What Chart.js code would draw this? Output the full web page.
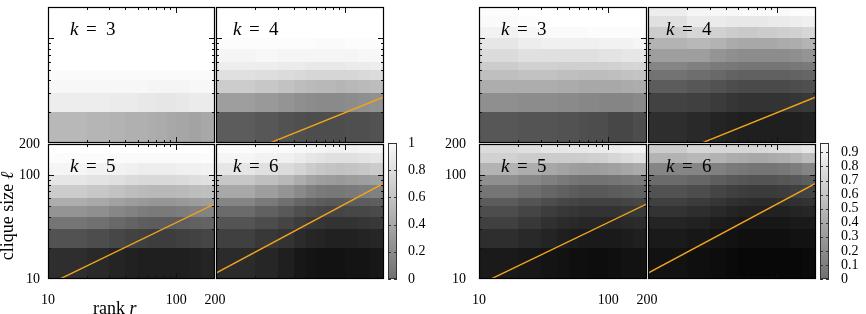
<!DOCTYPE html>
<html>
<head>
<meta charset="utf-8">
<script src="https://cdn.jsdelivr.net/npm/chart.js@4"></script>
<style>
  html, body { margin: 0; padding: 0; background: #fff; }
  #wrap { position: relative; width: 866px; height: 314px; overflow: hidden; background: #fff; }
  #wrap canvas { position: absolute; }
</style>
</head>
<body>
<div id="wrap"></div>
<script>
// cell edges on the two log axes
const rankEdges = [10, 20, 30, 40, 50, 60, 70, 85, 100, 125, 155, 200];
const sizeEdges = [10, 20, 30, 40, 50, 60, 80, 100, 130, 165, 200];
const axisLabels = [10, 100, 200];
const minorTicks = [20, 30, 40, 50, 60, 70, 80, 90];
const majorTicks = [100];

// orange lines: clique size at rank 10 and at rank 200
const lineRanks = [10, 200];
const lineK4 = [6.2, 27.6];
const lineK5 = [8.8, 53];
const lineK6 = [11.4, 84];

// colour bars
const cbTicksLeft = [0, 0.2, 0.4, 0.6, 0.8, 1];
const cbTicksRight = [0, 0.1, 0.2, 0.3, 0.4, 0.5, 0.6, 0.7, 0.8, 0.9];
const cbMaxLeft = 1;
const cbMaxRight = 0.967;

// grey level of each cell, rows from clique size 10 upwards, columns from rank 10 to 200
const leftK3 = [
  [.72, .71, .70, .69, .69, .68, .67, .66, .65, .64, .66],
  [.93, .93, .92, .92, .91, .91, .90, .90, .91, .92, .92],
  [.97, .97, .97, .97, .97, .96, .96, .96, .96, .97, .97],
  [.98, .98, .98, .98, .98, .98, .98, .98, .98, .98, .98],
  [1, 1, 1, 1, 1, 1, 1, 1, 1, 1, 1],
  [1, 1, 1, 1, 1, 1, 1, 1, 1, 1, 1],
  [1, 1, 1, 1, 1, 1, 1, 1, 1, 1, 1],
  [1, 1, 1, 1, 1, 1, 1, 1, 1, 1, 1],
  [1, 1, 1, 1, 1, 1, 1, 1, 1, 1, 1],
  [1, 1, 1, 1, 1, 1, 1, 1, 1, 1, 1]
];
const leftK4 = [
  [.36, .34, .32, .31, .30, .30, .30, .30, .31, .31, .32],
  [.62, .60, .58, .56, .55, .54, .54, .54, .55, .56, .57],
  [.80, .78, .76, .74, .73, .72, .72, .71, .72, .73, .74],
  [.88, .87, .86, .85, .84, .84, .84, .84, .84, .85, .86],
  [.93, .93, .92, .92, .91, .91, .91, .91, .92, .92, .93],
  [.96, .97, .96, .96, .96, .96, .96, .96, .96, .97, .97],
  [.99, .99, .99, .99, .99, .98, .98, .98, .99, .99, .99],
  [1, 1, 1, 1, 1, 1, 1, 1, 1, 1, 1],
  [1, 1, 1, 1, 1, 1, 1, 1, 1, 1, 1],
  [1, 1, 1, 1, 1, 1, 1, 1, 1, 1, 1]
];
const leftK5 = [
  [.18, .16, .14, .13, .12, .12, .12, .12, .12, .13, .14],
  [.32, .30, .28, .26, .25, .24, .24, .24, .25, .26, .27],
  [.46, .44, .41, .39, .37, .36, .36, .36, .37, .38, .39],
  [.58, .56, .53, .51, .49, .48, .48, .48, .49, .50, .51],
  [.68, .66, .63, .61, .60, .59, .59, .59, .60, .61, .62],
  [.80, .78, .76, .74, .73, .72, .72, .72, .73, .74, .75],
  [.90, .89, .88, .86, .85, .85, .85, .85, .86, .87, .88],
  [.96, .95, .95, .94, .93, .93, .93, .93, .94, .94, .95],
  [.99, .99, .98, .98, .98, .98, .98, .98, .98, .98, .99],
  [1, 1, 1, 1, 1, 1, 1, 1, 1, 1, 1]
];
const leftK6 = [
  [.17, .15, .12, .09, .08, .07, .07, .07, .08, .08, .09],
  [.25, .22, .20, .17, .15, .14, .13, .13, .13, .14, .15],
  [.33, .30, .27, .24, .22, .21, .20, .20, .20, .21, .22],
  [.42, .38, .35, .31, .29, .28, .27, .27, .28, .28, .29],
  [.52, .48, .44, .40, .38, .36, .35, .35, .36, .36, .37],
  [.66, .62, .58, .54, .50, .48, .47, .47, .48, .49, .50],
  [.78, .75, .72, .68, .64, .62, .61, .60, .61, .62, .63],
  [.90, .88, .86, .83, .80, .78, .77, .76, .77, .78, .80],
  [.96, .95, .94, .92, .90, .89, .88, .88, .88, .89, .90],
  [.99, .98, .98, .97, .96, .96, .95, .95, .95, .96, .96]
];
const rightK3 = [
  [.34, .33, .33, .32, .32, .31, .30, .30, .28, .28, .30],
  [.56, .55, .55, .54, .54, .53, .53, .52, .52, .52, .54],
  [.68, .68, .68, .67, .67, .66, .66, .66, .66, .67, .68],
  [.75, .76, .76, .75, .75, .74, .74, .74, .75, .76, .77],
  [.80, .82, .82, .81, .81, .81, .81, .81, .82, .83, .84],
  [.86, .88, .88, .88, .88, .88, .88, .89, .89, .90, .90],
  [.90, .93, .94, .94, .94, .94, .94, .95, .95, .95, .96],
  [.95, .97, .98, .98, .98, .98, .99, .99, .99, .99, .99],
  [.98, .99, 1, 1, 1, 1, 1, 1, 1, 1, 1],
  [.99, 1, 1, 1, 1, 1, 1, 1, 1, 1, 1]
];
const rightK4 = [
  [.18, .16, .14, .13, .12, .12, .12, .12, .12, .12, .13],
  [.26, .25, .23, .21, .20, .20, .20, .20, .20, .21, .22],
  [.36, .34, .32, .30, .29, .29, .29, .29, .29, .30, .31],
  [.45, .43, .41, .39, .38, .38, .38, .38, .38, .39, .40],
  [.52, .50, .48, .47, .46, .46, .46, .46, .46, .47, .48],
  [.62, .62, .58, .56, .55, .55, .55, .55, .55, .56, .58],
  [.70, .72, .70, .67, .66, .66, .66, .66, .67, .68, .70],
  [.80, .84, .82, .80, .79, .79, .80, .80, .81, .82, .84],
  [.88, .92, .92, .91, .91, .91, .91, .92, .92, .93, .94],
  [.93, .96, .97, .97, .98, .98, .98, .98, .98, .99, .99]
];
const rightK5 = [
  [.10, .09, .08, .07, .06, .06, .05, .05, .06, .07, .07],
  [.18, .16, .14, .12, .11, .10, .10, .10, .10, .11, .12],
  [.25, .22, .19, .17, .16, .15, .15, .15, .15, .16, .17],
  [.30, .27, .24, .22, .21, .20, .20, .20, .20, .21, .22],
  [.36, .33, .30, .28, .27, .26, .26, .26, .26, .27, .28],
  [.46, .43, .40, .38, .36, .35, .35, .35, .36, .37, .38],
  [.56, .53, .50, .48, .46, .45, .45, .45, .46, .47, .48],
  [.70, .68, .66, .64, .62, .61, .61, .62, .63, .65, .67],
  [.82, .80, .80, .80, .80, .80, .81, .82, .84, .86, .88],
  [.86, .88, .90, .90, .91, .91, .92, .92, .93, .94, .95]
];
const rightK6 = [
  [.07, .06, .05, .04, .03, .03, .03, .03, .03, .03, .04],
  [.10, .09, .08, .07, .06, .06, .06, .06, .06, .07, .07],
  [.14, .13, .11, .10, .09, .09, .09, .09, .09, .10, .10],
  [.20, .18, .16, .14, .13, .13, .13, .13, .13, .14, .15],
  [.25, .23, .21, .19, .18, .17, .17, .17, .18, .19, .20],
  [.32, .30, .27, .25, .24, .23, .23, .23, .24, .25, .26],
  [.42, .40, .37, .35, .34, .33, .33, .33, .34, .35, .37],
  [.52, .52, .50, .48, .47, .46, .46, .46, .47, .49, .52],
  [.70, .72, .70, .68, .67, .66, .66, .67, .68, .70, .74],
  [.80, .84, .84, .84, .84, .84, .85, .86, .87, .88, .90]
];

const SERIF = "'Liberation Serif', 'DejaVu Serif', serif";
const ORANGE = '#f0a41e';
const PAD_T = 26;   // room above labelled panels for Chart.js label padding
const PAD_R = 30;

const panels = [
  { k: 3, grid: leftK3, line: null, x: 48, y: 7, w: 167, h: 136, dx: 22 },
  { k: 4, grid: leftK4, line: lineK4, x: 216, y: 7, w: 168, h: 136, dx: 17 },
  { k: 5, grid: leftK5, line: lineK5, x: 48, y: 144, w: 167, h: 135, dx: 22, axes: { left: 0, pad: 8, titles: true } },
  { k: 6, grid: leftK6, line: lineK6, x: 216, y: 144, w: 168, h: 135, dx: 17 },
  { k: 3, grid: rightK3, line: null, x: 479, y: 7, w: 168, h: 136, dx: 22 },
  { k: 4, grid: rightK4, line: lineK4, x: 648, y: 7, w: 168, h: 136, dx: 18 },
  { k: 5, grid: rightK5, line: lineK5, x: 479, y: 144, w: 168, h: 135, dx: 22, axes: { left: 436, pad: 13, titles: false } },
  { k: 6, grid: rightK6, line: lineK6, x: 648, y: 144, w: 168, h: 135, dx: 18 }
];

const wrap = document.getElementById('wrap');

function addCanvas(left, top, w, h) {
  const c = document.createElement('canvas');
  c.width = w; c.height = h;
  c.style.left = left + 'px'; c.style.top = top + 'px';
  c.style.width = w + 'px'; c.style.height = h + 'px';
  wrap.appendChild(c);
  return c;
}

function grey(v) {
  const g = Math.round(255 * v);
  return 'rgb(' + g + ',' + g + ',' + g + ')';
}

function seg(ctx, x0, y0, x1, y1) {
  ctx.beginPath(); ctx.moveTo(x0, y0); ctx.lineTo(x1, y1); ctx.stroke();
}

function panelPlugin(p, ct) {
  return {
    id: 'panel',
    beforeDatasetsDraw(chart) {
      const { ctx, scales: { x, y } } = chart;
      ctx.save();
      p.grid.forEach((row, i) => {
        const yT = Math.round(y.getPixelForValue(sizeEdges[i + 1]));
        const yB = Math.round(y.getPixelForValue(sizeEdges[i]));
        row.forEach((v, j) => {
          const x0 = Math.round(x.getPixelForValue(rankEdges[j]));
          const x1 = Math.round(x.getPixelForValue(rankEdges[j + 1]));
          ctx.fillStyle = grey(v);
          ctx.fillRect(x0, yT, x1 - x0, yB - yT);
        });
      });
      ctx.restore();
    },
    afterDatasetsDraw(chart) {
      const { ctx, chartArea: a, scales: { x, y } } = chart;
      ctx.save();
      ctx.strokeStyle = '#111';
      ctx.lineWidth = 1;
      const ticks = (vals, len) => vals.forEach(v => {
        const px = Math.round(x.getPixelForValue(v)) + 0.5;
        seg(ctx, px, a.top, px, a.top + len);
        seg(ctx, px, a.bottom, px, a.bottom - len);
        const py = Math.round(y.getPixelForValue(v)) + 0.5;
        seg(ctx, a.left, py, a.left + len, py);
        seg(ctx, a.right, py, a.right - len, py);
      });
      ticks(minorTicks, 3);
      ticks(majorTicks, 6);
      ctx.strokeStyle = '#000';
      ctx.lineWidth = 1.2;
      ctx.strokeRect(a.left + 0.5, a.top + 0.5, a.width - 1, a.height - 1);

      // panel label "k = n"
      const tx = a.left + p.dx, ty = a.top + 28;
      ctx.fillStyle = '#000';
      ctx.textBaseline = 'alphabetic';
      ctx.font = 'italic 19px ' + SERIF;
      ctx.fillText('k', tx, ty);
      ctx.font = '19px ' + SERIF;
      ctx.fillText('=', tx + 16, ty);
      ctx.fillText(String(p.k), tx + 36, ty);

      if (p.axes && p.axes.titles) {
        // y title, rotated
        ctx.font = '18px ' + SERIF;
        const t1 = 'clique size ';
        const w1 = ctx.measureText(t1).width;
        ctx.font = 'italic 18px ' + SERIF;
        const w2 = ctx.measureText('ℓ').width;
        ctx.save();
        ctx.translate(13 - p.axes.left, 216 - ct);
        ctx.rotate(-Math.PI / 2);
        ctx.font = '18px ' + SERIF;
        ctx.fillText(t1, -(w1 + w2) / 2, 0);
        ctx.font = 'italic 18px ' + SERIF;
        ctx.fillText('ℓ', -(w1 + w2) / 2 + w1, 0);
        ctx.restore();
        // x title, cut by the bottom edge as in the original
        const bx = 93 - p.axes.left, by = 314 - ct;
        ctx.font = '18px ' + SERIF;
        const wr = ctx.measureText('rank ').width;
        ctx.fillText('rank ', bx, by);
        ctx.font = 'italic 18px ' + SERIF;
        ctx.fillText('r', bx + wr, by);
      }
      ctx.restore();
    }
  };
}

function makePanel(p) {
  const labelled = !!p.axes;
  let cl, ct, cw, ch, padding;
  if (labelled) {
    cl = p.axes.left; ct = p.y - PAD_T;
    cw = p.x + p.w + PAD_R - cl; ch = 330 - ct;
    padding = { left: 0, top: PAD_T, right: PAD_R, bottom: 0 };
  } else {
    cl = p.x - 3; ct = p.y - 3; cw = p.w + 6; ch = p.h + 6;
    padding = 3;
  }
  const canvas = addCanvas(cl, ct, cw, ch);
  const datasets = [];
  if (p.line) {
    datasets.push({
      data: lineRanks.map((r, i) => ({ x: r, y: p.line[i] })),
      borderColor: ORANGE,
      borderWidth: 1.4,
      pointRadius: 0,
      fill: false
    });
  }
  const tickFont = { family: SERIF, size: 14 };
  new Chart(canvas, {
    type: 'line',
    data: { datasets },
    options: {
      responsive: false,
      devicePixelRatio: 1,
      animation: false,
      layout: { padding },
      plugins: { legend: { display: false }, tooltip: { enabled: false } },
      scales: {
        x: {
          type: 'logarithmic', min: 10, max: 200, display: labelled,
          grid: { display: false, drawTicks: false }, border: { display: false },
          afterBuildTicks: s => { s.ticks = axisLabels.map(v => ({ value: v })); },
          afterFit: s => { if (labelled) s.height = ct + ch - (p.y + p.h); },
          ticks: { color: '#000', font: tickFont, padding: 13, maxRotation: 0, autoSkip: false, callback: v => String(v) }
        },
        y: {
          type: 'logarithmic', min: 10, max: 200, display: labelled,
          grid: { display: false, drawTicks: false }, border: { display: false },
          afterBuildTicks: s => { s.ticks = axisLabels.map(v => ({ value: v })); },
          afterFit: s => { if (labelled) s.width = p.x - p.axes.left; },
          ticks: { color: '#000', font: tickFont, padding: labelled ? p.axes.pad : 0, autoSkip: false, callback: v => String(v) }
        }
      }
    },
    plugins: [panelPlugin(p, ct)]
  });
}

panels.forEach(makePanel);

function makeColorbar(left, labelsRight, max, ticks, pad) {
  const cl = left - 2, ct = 143 - PAD_T;
  const cw = labelsRight - cl, ch = 279 - ct + PAD_T;
  const canvas = addCanvas(cl, ct, cw, ch);
  new Chart(canvas, {
    type: 'line',
    data: { datasets: [] },
    options: {
      responsive: false,
      devicePixelRatio: 1,
      animation: false,
      layout: { padding: { left: 2, top: PAD_T, bottom: PAD_T, right: 0 } },
      plugins: { legend: { display: false }, tooltip: { enabled: false } },
      scales: {
        x: { display: false },
        y: {
          type: 'linear', position: 'right', min: 0, max: max,
          grid: { display: false, drawTicks: false }, border: { display: false },
          afterBuildTicks: s => { s.ticks = ticks.map(v => ({ value: v })); },
          afterFit: s => { s.width = cw - 2 - 9; },
          ticks: { color: '#000', font: { family: SERIF, size: 14 }, padding: pad, autoSkip: false, callback: v => String(v) }
        }
      }
    },
    plugins: [{
      id: 'cbar',
      beforeDatasetsDraw(chart) {
        const { ctx, chartArea: a, scales: { y } } = chart;
        ctx.save();
        const y0 = y.getPixelForValue(0), y1 = y.getPixelForValue(max);
        const g = ctx.createLinearGradient(0, y0, 0, y1);
        g.addColorStop(0, grey(0.44));
        g.addColorStop(1, grey(0.98));
        ctx.fillStyle = g;
        ctx.fillRect(a.left, y1, a.width, y0 - y1);
        ctx.strokeStyle = '#333';
        ctx.lineWidth = 1;
        ctx.strokeRect(a.left + 0.5, a.top + 0.5, a.width - 1, a.height - 1);
        ticks.forEach(v => {
          const py = Math.round(y.getPixelForValue(v)) + 0.5;
          seg(ctx, a.left, py, a.left + 3, py);
          seg(ctx, a.right, py, a.right - 3, py);
        });
        ctx.restore();
      }
    }]
  });
}

makeColorbar(388, 450, cbMaxLeft, cbTicksLeft, 11);
makeColorbar(820, 866, cbMaxRight, cbTicksRight, 12);
</script>
</body>
</html>
